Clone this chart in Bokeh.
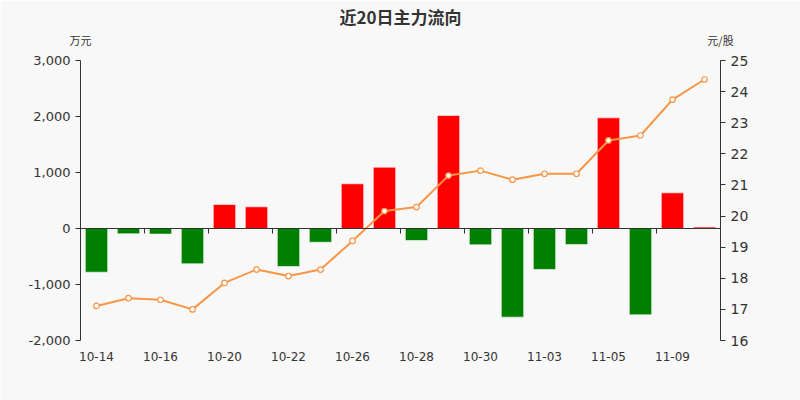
from bokeh.plotting import figure
from bokeh.models import (Range1d, LinearAxis, FixedTicker, NumeralTickFormatter,
                          Span, ColumnDataSource)
from bokeh.core.properties import value
from bokeh.embed import file_html
from bokeh.resources import INLINE

title = "近20日主力流向"
left_unit = "万元"
right_unit = "元/股"
dates = ["10-14", "10-15", "10-16", "10-19", "10-20", "10-21", "10-22", "10-23",
         "10-26", "10-27", "10-28", "10-29", "10-30", "11-02", "11-03", "11-04",
         "11-05", "11-06", "11-09", "11-10"]
flow = [-780, -95, -100, -630, 430, 387, -680, -245, 798, 1095,
        -214, 2018, -292, -1583, -732, -286, 1976, -1542, 637, 25]
price = [17.11, 17.36, 17.31, 17.00, 17.85, 18.28, 18.07, 18.28, 19.20, 20.16,
         20.29, 21.30, 21.46, 21.17, 21.36, 21.36, 22.43, 22.59, 23.74, 24.39]
left_ticks = [-2000, -1000, 0, 1000, 2000, 3000]
right_ticks = [16, 17, 18, 19, 20, 21, 22, 23, 24, 25]

BG = "#f8f8f8"
TXT = "#333333"
FONT = "DejaVu Sans"
CJK = "Noto Sans CJK SC"

n = len(dates)
xs = list(range(n))
colors = ["#ff0000" if v >= 0 else "#008000" for v in flow]
src = ColumnDataSource(dict(x=xs, flow=flow, price=price, color=colors))

p = figure(width=800, height=400, output_backend="svg", toolbar_location=None,
           x_range=Range1d(-0.5, n - 0.5), y_range=Range1d(left_ticks[0], left_ticks[-1]),
           min_border_left=80, min_border_right=80, min_border_top=60, min_border_bottom=60,
           background_fill_color=BG, border_fill_color=BG, outline_line_color=None)
p.grid.visible = False
p.extra_y_ranges = {"price": Range1d(right_ticks[0], right_ticks[-1])}

# title
p.title.text = title
p.title.align = "center"
p.title.text_font_size = "17px"
p.title.text_font_style = "bold"
p.title.text_color = TXT
p.title.text_font = CJK
p.title.standoff = 0

# bars
p.vbar(x="x", top="flow", bottom=0, width=0.7, fill_color="color", line_color="white",
       line_alpha=0.6, line_width=1, source=src)

# zero line + boundary ticks (echarts style axis on zero)
p.add_layout(Span(location=0, dimension="width", line_color=TXT, line_width=1.2))
bounds = [i - 0.5 for i in range(0, n + 1, 2)]
tick_len = (left_ticks[-1] - left_ticks[0]) / 280 * 5
p.segment(x0=bounds, x1=bounds, y0=[0] * len(bounds), y1=[-tick_len] * len(bounds),
          line_color=TXT, line_width=1)

# price line
p.line(x="x", y="price", y_range_name="price", source=src, line_color="#f79646",
       line_width=2)
p.scatter(x="x", y="price", y_range_name="price", source=src, size=5.5,
          fill_color="white", line_color="#f79646", line_width=1.2)

# axes
xa = p.xaxis[0]
xa.ticker = FixedTicker(ticks=xs[::2])
xa.major_label_overrides = {i: dates[i] for i in xs[::2]}
xa.axis_line_color = None
xa.major_tick_line_color = None
xa.minor_tick_line_color = None
xa.major_label_standoff = 5
xa.major_label_text_font_size = "12px"
xa.major_label_text_color = TXT
xa.major_label_text_font = FONT

ya = p.yaxis[0]
ya.ticker = FixedTicker(ticks=left_ticks)
ya.formatter = NumeralTickFormatter(format="0,0")
ya.minor_tick_line_color = None
ya.major_tick_in = 0
ya.major_tick_out = 5
ya.axis_line_color = TXT
ya.major_tick_line_color = TXT
ya.major_label_text_font_size = "13px"
ya.major_label_text_color = TXT
ya.major_label_text_font = FONT
ya.major_label_standoff = 5

ra = LinearAxis(y_range_name="price", ticker=FixedTicker(ticks=right_ticks))
ra.minor_tick_line_color = None
ra.major_tick_in = 0
ra.major_tick_out = 5
ra.axis_line_color = TXT
ra.major_tick_line_color = TXT
ra.major_label_text_font_size = "14px"
ra.major_label_text_color = TXT
ra.major_label_text_font = FONT
ra.major_label_standoff = 5
p.add_layout(ra, "right")

# unit labels as an axis above the frame (ticks at the two range ends)
ua = LinearAxis(ticker=FixedTicker(ticks=[-0.5, n - 0.5]))
ua.major_label_overrides = {-0.5: left_unit, n - 0.5: right_unit}
ua.axis_line_color = None
ua.major_tick_line_color = None
ua.minor_tick_line_color = None
ua.major_label_standoff = 7
ua.major_label_text_font_size = "11px"
ua.major_label_text_color = TXT
ua.major_label_text_font = CJK
p.add_layout(ua, "above")

html = file_html(p, INLINE)
html = html.replace("<body>", '<body style="background:%s">' % BG, 1)
open("out.html", "w").write(html)
